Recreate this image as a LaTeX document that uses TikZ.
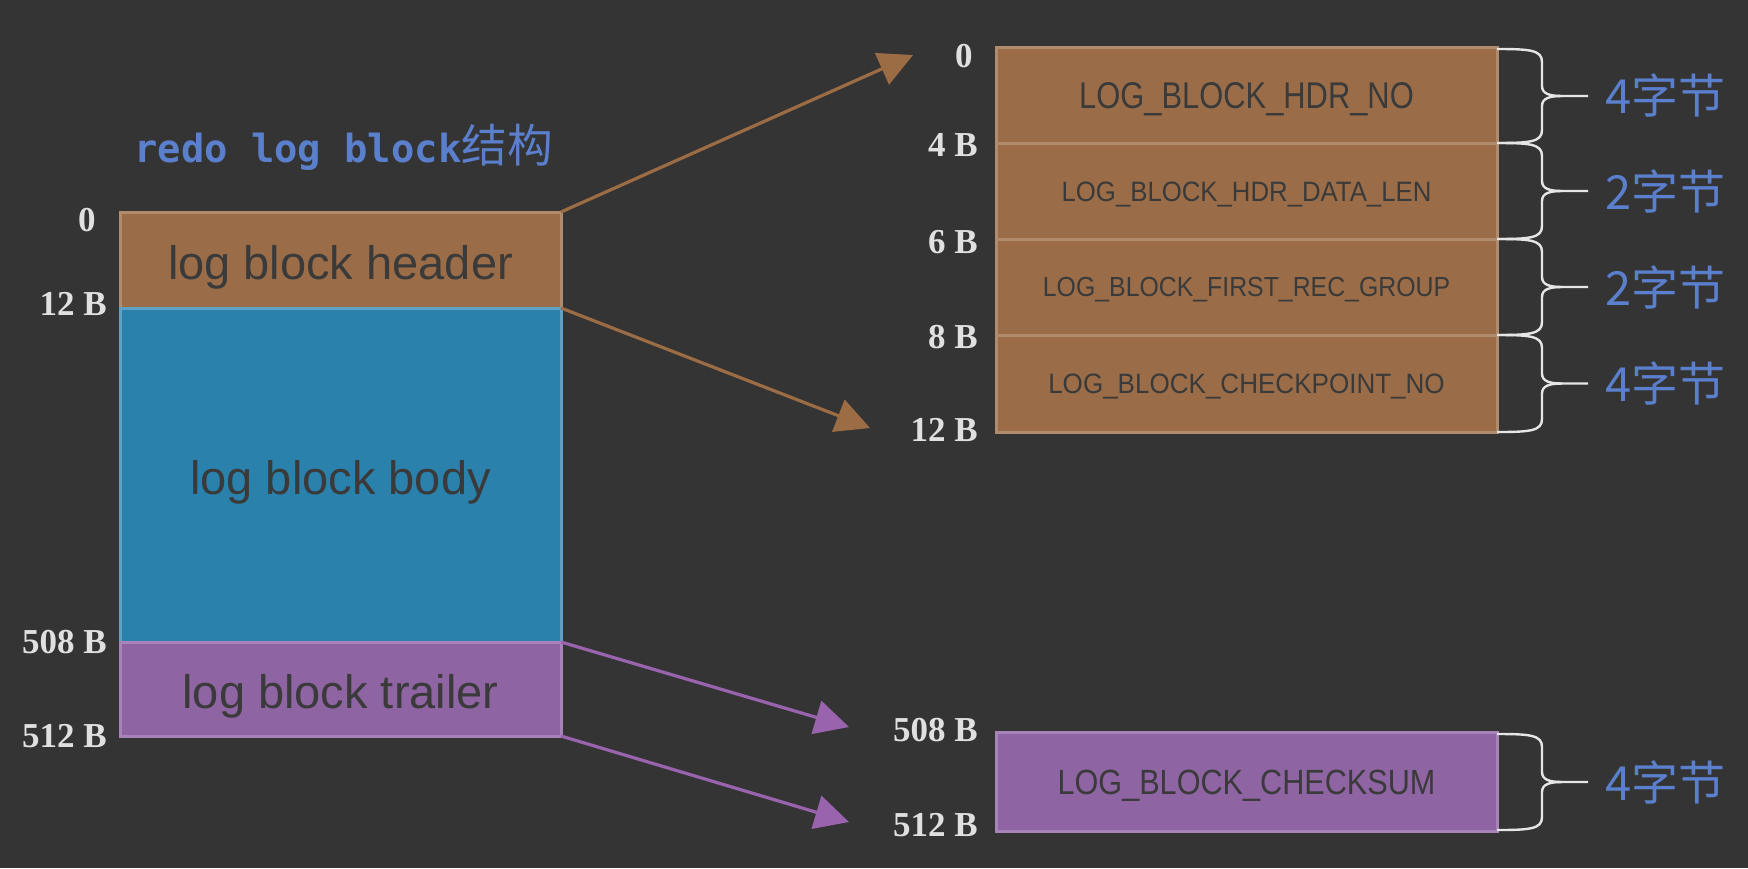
\documentclass[tikz,border=0pt]{standalone}
\usepackage{graphicx}
\usepackage{fontspec}
\setmainfont{Liberation Sans}
\newfontfamily\lblfont{Liberation Serif}
\newfontfamily\cjkfont{Noto Sans CJK SC}
\newfontfamily\titlemono{DejaVu Sans Mono}
\usetikzlibrary{arrows.meta}
\definecolor{bgc}{HTML}{343434}
\definecolor{brownfill}{HTML}{9A6D48}
\definecolor{brownline}{HTML}{B08C6C}
\definecolor{bluefill}{HTML}{2A82AC}
\definecolor{blueline}{HTML}{5CA2C4}
\definecolor{purpfill}{HTML}{8E64A2}
\definecolor{purpline}{HTML}{A883BA}
\definecolor{textdark}{HTML}{3A3A3A}
\definecolor{lblgray}{HTML}{E0E0E0}
\definecolor{tblue}{HTML}{5A7FCC}
\definecolor{bracec}{HTML}{E6E6E6}
\definecolor{arrbrown}{HTML}{9C6C45}
\definecolor{arrpurp}{HTML}{9A63AE}
\newcommand\setfs[1]{\fontsize{#1}{#1}\selectfont}
\newcommand\condtxt[2]{\scalebox{#1}[1]{#2}}
\newcommand\sizebrace[2]{%
  \pgfmathsetmacro\bym{(#1+#2)/2}%
  \draw[bracestyle] (1497,#1) .. controls (1530,#1) and (1542,#1+1) .. (1542,#1+13) -- (1542,\bym-10) .. controls (1542,\bym-2) and (1550,\bym) .. (1562,\bym) -- (1588,\bym);
  \draw[bracestyle] (1562,\bym) .. controls (1550,\bym) and (1542,\bym+2) .. (1542,\bym+10) -- (1542,#2-13) .. controls (1542,#2-1) and (1530,#2) .. (1497,#2);
}
\begin{document}
\begin{tikzpicture}[x=0.5pt,y=-0.5pt,
  blk/.style={draw, line width=1.5pt, inner sep=0pt, outer sep=0pt, text=textdark},
  bigtxt/.style={font=\setfs{23.5}, text height=19pt, text depth=0pt},
  hdrblk/.style={blk, bigtxt, fill=brownfill, draw=brownline, minimum width=220.5pt},
  bodyblk/.style={blk, bigtxt, fill=bluefill, draw=blueline, minimum width=220.5pt},
  trlblk/.style={blk, bigtxt, fill=purpfill, draw=purpline, minimum width=220.5pt},
  fieldblk/.style={blk, fill=brownfill, draw=brownline, minimum width=250.5pt, minimum height=48pt, text depth=0pt},
  sumblk/.style={blk, fill=purpfill, draw=purpline, minimum width=250.5pt, minimum height=49.5pt, text depth=0pt},
  offlbl/.style={anchor=east, inner sep=0pt, text=lblgray, font=\lblfont\bfseries\setfs{17.5}},
  sizelbl/.style={anchor=west, inner sep=0pt, text=tblue, font=\cjkfont\setfs{23.5}},
  bracestyle/.style={draw=bracec, line width=1.2pt},
  brownarrow/.style={draw=arrbrown, line width=1.6pt, -{Triangle[length=17pt,width=17pt]}},
  purparrow/.style={draw=arrpurp, line width=1.6pt, -{Triangle[length=17pt,width=17pt]}}
]
\fill[bgc] (0,0) rectangle (1748,868);
\useasboundingbox (0,0) rectangle (1748,868);

% title
\node[anchor=base west, inner sep=0pt, text=tblue] (title) at (134,162)
  {{\titlemono\bfseries\setfs{19.4}redo log block}{\cjkfont\setfs{22.8}结构}};

% left block
\node[hdrblk, minimum height=48pt] (hdr) at (340.5,260) {log block header};
\node[bodyblk, minimum height=167pt] (body) at (340.5,475) {log block body};
\node[trlblk, minimum height=47pt] (trl) at (340.5,689) {log block trailer};

\node[offlbl] (l0) at (96,220) {0};
\node[offlbl] (l12) at (107,304) {12 B};
\node[offlbl] (l508) at (107,642) {508 B};
\node[offlbl] (l512) at (107,736) {512 B};

% right header block
\node[fieldblk, font=\setfs{18.6}, text height=13.3pt] (f1) at (1246.5,95) {\condtxt{0.83}{LOG\_BLOCK\_HDR\_NO}};
\node[fieldblk, font=\setfs{14}, text height=10pt] (f2) at (1246.5,191) {\condtxt{0.92}{LOG\_BLOCK\_HDR\_DATA\_LEN}};
\node[fieldblk, font=\setfs{13.8}, text height=9.9pt] (f3) at (1246.5,287) {\condtxt{0.9}{LOG\_BLOCK\_FIRST\_REC\_GROUP}};
\node[fieldblk, font=\setfs{14}, text height=10pt, minimum height=48.5pt] (f4) at (1246.5,383.5) {\condtxt{0.93}{LOG\_BLOCK\_CHECKPOINT\_NO}};

\node[sumblk, font=\setfs{17.5}, text height=12.5pt] (cs) at (1246.5,781.5) {\condtxt{0.875}{LOG\_BLOCK\_CHECKSUM}};

\node[offlbl] (r0) at (973,56) {0};
\node[offlbl] (r4) at (978,145) {4 B};
\node[offlbl] (r6) at (978,242) {6 B};
\node[offlbl] (r8) at (978,337) {8 B};
\node[offlbl] (r12) at (978,430) {12 B};
\node[offlbl] (r508) at (978,730) {508 B};
\node[offlbl] (r512) at (978,825) {512 B};

% braces and size labels
\sizebrace{49}{143}
\sizebrace{143}{239}
\sizebrace{239}{335}
\sizebrace{335}{432}
\sizebrace{734}{830}
\node[sizelbl] (s1) at (1605,95) {4字节};
\node[sizelbl] (s2) at (1605,191) {2字节};
\node[sizelbl] (s3) at (1605,287) {2字节};
\node[sizelbl] (s4) at (1605,383) {4字节};
\node[sizelbl] (s5) at (1605,782) {4字节};

% arrows
\coordinate (a1) at (913,55);
\coordinate (a2) at (870,428);
\coordinate (a3) at (849,727);
\coordinate (a4) at (849,822);
\draw[brownarrow] (hdr.north east) -- (a1);
\draw[brownarrow] (hdr.south east) -- (a2);
\draw[purparrow] (trl.north east) -- (a3);
\draw[purparrow] (trl.south east) -- (a4);
\end{tikzpicture}
\end{document}
